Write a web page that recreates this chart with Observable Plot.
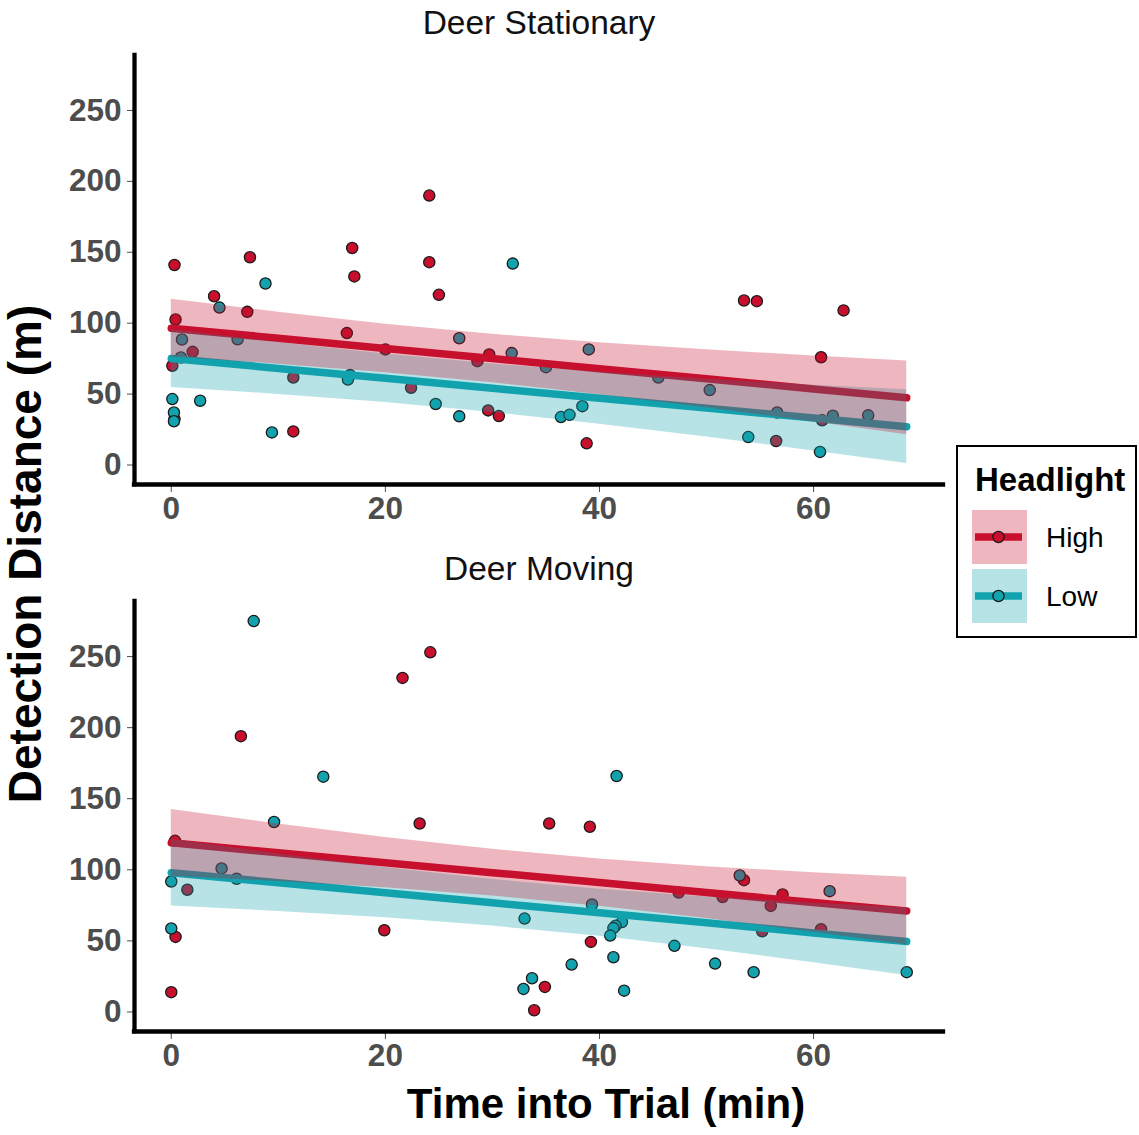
<!DOCTYPE html>
<html>
<head>
<meta charset="utf-8">
<script src="https://cdn.jsdelivr.net/npm/d3@7"></script>
<script src="https://cdn.jsdelivr.net/npm/@observablehq/plot@0.6"></script>
<style>
  html, body { margin: 0; padding: 0; background: #fff; }
  body { width: 1139px; height: 1135px; position: relative; overflow: hidden; font-family: "Liberation Sans", Arial, sans-serif; }
  .abs { position: absolute; }
  .ctr { transform: translate(-50%, -50%); line-height: 1; white-space: nowrap; }
</style>
</head>
<body>
<div id="top" class="abs" style="left:0;top:0;"></div>
<div id="bottom" class="abs" style="left:0;top:560px;"></div>

<div class="abs ctr" style="left:539px;top:23px;font-size:33.5px;color:#111;">Deer Stationary</div>
<div class="abs ctr" style="left:539px;top:569px;font-size:33.5px;color:#111;">Deer Moving</div>
<div class="abs ctr" style="left:606px;top:1104px;font-size:42px;font-weight:bold;color:#000;">Time into Trial (min)</div>
<div class="abs ctr" style="left:25px;top:554px;font-size:46px;font-weight:bold;color:#000;transform:translate(-50%,-50%) rotate(-90deg);">Detection Distance (m)</div>

<div id="legend" class="abs" style="left:956px;top:445px;width:177px;height:189px;border:2px solid #000;background:#fff;"></div>

<script>
// ---- Data ----
const groups = ["High", "Low"];
const colorHigh = "#C8102E";
const colorLow = "#12A3AE";

// Deer Stationary, High headlight
const statHighX = [24.1, 0.3, 7.35, 16.9, 24.1, 17.1, 25.0, 4.0, 7.1, 0.4, 16.4, 2.0, 0.1, 20.0, 29.7, 28.6, 11.4, 22.4, 29.6, 30.6, 0.3, 11.4, 53.5, 54.7, 62.8, 60.7, 38.8, 60.8, 56.5];
const statHighY = [190, 141, 146.5, 153, 143, 133, 120, 119, 108, 102.6, 93, 79.8, 70, 81.5, 78, 73.2, 61.7, 54.5, 38.5, 34.5, 32.4, 23.7, 116, 115.5, 109, 76, 15.3, 31.5, 16.9];
// Deer Stationary, Low headlight
const statLowX = [31.9, 8.8, 4.5, 1.0, 6.2, 26.9, 0.9, 31.8, 35.0, 16.7, 16.5, 0.1, 2.7, 24.7, 26.9, 0.25, 0.25, 9.4, 39.0, 45.5, 50.3, 38.4, 36.4, 37.2, 56.6, 61.8, 65.1, 53.9, 60.6];
const statLowY = [142, 128, 111, 88.5, 88.7, 89.4, 75.8, 78.9, 69, 63.4, 60.3, 46.5, 45.3, 43, 34.3, 37, 30.8, 23, 81.5, 61.7, 52.8, 41.5, 33.8, 35.4, 37, 34.7, 35, 19.7, 9.2];
// Deer Moving, High headlight
const movHighX = [24.2, 21.6, 6.5, 23.2, 35.3, 0.35, 1.5, 19.9, 0.4, 34.9, 33.9, 0.0, 39.1, 53.5, 47.4, 51.5, 57.1, 56.0, 60.7, 55.2, 39.2];
const movHighY = [253, 235, 194, 132.6, 132.6, 120.4, 86, 57.5, 52.8, 17.6, 1.2, 13.9, 130.3, 92.7, 84, 80.8, 82.6, 74.6, 58.2, 56.8, 49.3];
// Deer Moving, Low headlight
const movLowX = [7.7, 14.2, 9.6, 4.7, 0.0, 6.1, 33.0, 0.0, 33.7, 32.9, 53.1, 61.5, 39.3, 42.1, 41.5, 41.3, 41.0, 47.0, 37.4, 41.3, 50.8, 54.4, 68.7, 42.3, 41.6];
const movLowY = [275, 165.5, 133.6, 101, 91.8, 93.7, 65.7, 58.7, 23.7, 16.2, 96, 85, 75.6, 63.2, 60.6, 59, 53.7, 46.5, 33.3, 38.5, 34, 28, 28, 15, 166];

// Fitted lines and confidence bands
const fitX = [0, 10, 20, 30, 40, 50, 60, 68.7];
const statHighFit   = [96.5, 89.4, 82.2, 75.1, 67.9, 60.8, 53.6, 47.4];
const statHighUpper = [116.9, 107.7, 99.3, 92.2, 86.2, 81.2, 76.8, 73.4];
const statHighLower = [76.1, 71.1, 65.1, 58.0, 49.6, 40.4, 30.4, 21.4];
const statLowFit    = [75.1, 68.1, 61.1, 54.1, 47.1, 40.1, 33.1, 27.0];
const statLowUpper  = [95.5, 86.4, 78.2, 71.2, 65.4, 60.5, 56.3, 53.0];
const statLowLower  = [54.7, 49.8, 44.0, 37.0, 28.8, 19.7, 9.9, 1.0];
const movHighFit    = [119, 112, 105, 98, 91, 84, 77, 71];
const movHighUpper  = [142.5, 132.2, 122.7, 114.4, 107.6, 102.2, 97.9, 94.8];
const movHighLower  = [95.5, 91.8, 87.3, 81.6, 74.4, 65.8, 56.1, 47.2];
const movLowFit     = [98, 90.9, 83.9, 76.8, 69.8, 62.7, 55.6, 49.5];
const movLowUpper   = [121.5, 111.1, 101.6, 93.2, 86.4, 80.9, 76.5, 73.3];
const movLowLower   = [74.5, 70.7, 66.2, 60.4, 53.2, 44.5, 34.7, 25.7];

const xTicks = [0, 20, 40, 60];
const yTicks = [0, 50, 100, 150, 200, 250];
const xDomain = [-3.435, 72.135];
const yDomain = [-13.75, 288.75];

function pts(xs, ys, g) { return xs.map((x, i) => ({t: x, d: ys[i], g})); }
function fit(fitv, lo, hi, g) { return fitX.map((x, i) => ({t: x, f: fitv[i], lo: lo[i], hi: hi[i], g})); }

function panel(points, fHigh, fLow, height, marginTop, marginBottom) {
  return Plot.plot({
    width: 1139, height, marginLeft: 134, marginRight: 196, marginTop, marginBottom,
    x: {domain: xDomain, ticks: xTicks, tickSize: 8, tickPadding: 4, label: null},
    y: {domain: yDomain, ticks: yTicks, tickSize: 7, tickPadding: 6, label: null},
    color: {domain: groups, range: [colorHigh, colorLow]},
    style: {fontFamily: "'Liberation Sans', Arial, sans-serif", fontSize: "31.5px", fontWeight: "bold", color: "#4D4D4D", background: "transparent", overflow: "visible"},
    marks: [
      Plot.dot(points, {x: "t", y: "d", fill: "g", stroke: "#1a1a1a", strokeWidth: 1.3, r: 5.6}),
      Plot.line(fHigh.concat(fLow), {x: "t", y: "f", z: "g", stroke: "g", strokeWidth: 7.5}),
      Plot.areaY(fLow, {x: "t", y1: "lo", y2: "hi", fill: colorLow, fillOpacity: 0.3}),
      Plot.areaY(fHigh, {x: "t", y1: "lo", y2: "hi", fill: colorHigh, fillOpacity: 0.3}),
      Plot.ruleX([xDomain[0]], {stroke: "#000", strokeWidth: 4.3, strokeLinecap: "square"}),
      Plot.ruleY([yDomain[0]], {stroke: "#000", strokeWidth: 4.3, strokeLinecap: "square"})
    ]
  });
}

const topPts = pts(statHighX, statHighY, "High").concat(pts(statLowX, statLowY, "Low"));
const botPts = pts(movHighX, movHighY, "High").concat(pts(movLowX, movLowY, "Low"));

document.getElementById("top").append(
  panel(topPts, fit(statHighFit, statHighLower, statHighUpper, "High"), fit(statLowFit, statLowLower, statLowUpper, "Low"), 544, 55, 60)
);
document.getElementById("bottom").append(
  panel(botPts, fit(movHighFit, movHighLower, movHighUpper, "High"), fit(movLowFit, movLowLower, movLowUpper, "Low"), 526, 41, 55)
);

// ---- Legend ----
const legend = document.getElementById("legend");
const ns = "http://www.w3.org/2000/svg";
const lsvg = document.createElementNS(ns, "svg");
lsvg.setAttribute("width", 177); lsvg.setAttribute("height", 189);
lsvg.style.fontFamily = "'Liberation Sans', Arial, sans-serif";
function el(tag, attrs, text) {
  const e = document.createElementNS(ns, tag);
  for (const k in attrs) e.setAttribute(k, attrs[k]);
  if (text) e.textContent = text;
  lsvg.appendChild(e); return e;
}
el("text", {x: 17, y: 44, "font-size": 33, "font-weight": "bold", fill: "#000"}, "Headlight");
[["High", colorHigh], ["Low", colorLow]].forEach(([name, c], i) => {
  const y0 = 63 + i * 59;
  el("rect", {x: 14, y: y0, width: 55, height: 54, fill: c, "fill-opacity": 0.3});
  el("line", {x1: 17, x2: 64, y1: y0 + 27, y2: y0 + 27, stroke: c, "stroke-width": 7.5});
  el("circle", {cx: 40.5, cy: y0 + 27, r: 5.6, fill: c, stroke: "#1a1a1a", "stroke-width": 1.3});
  el("text", {x: 88, y: y0 + 37, "font-size": 28, fill: "#000"}, name);
});
legend.appendChild(lsvg);
</script>
</body>
</html>
